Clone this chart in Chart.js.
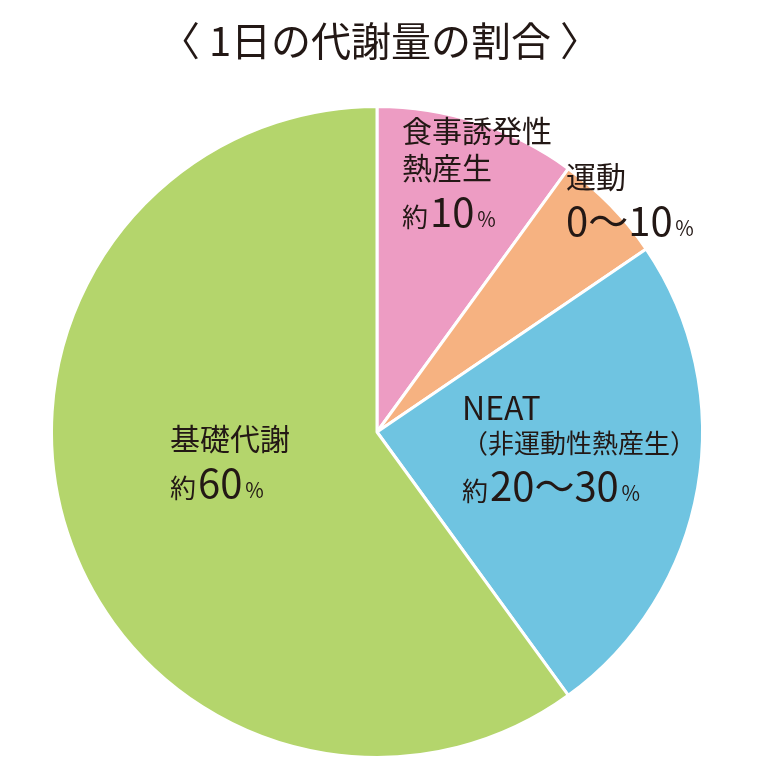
<!DOCTYPE html>
<html lang="ja">
<head>
<meta charset="UTF-8">
<script src="https://cdn.jsdelivr.net/npm/chart.js@4"></script>
<style>
  body { margin: 0; background: #fff; }
  #wrap { position: relative; width: 760px; height: 760px; }
</style>
</head>
<body>
<div id="wrap"><canvas id="pie" width="760" height="760"></canvas></div>
<script>
// Shares of daily energy expenditure (clockwise from top)
const categories = ['食事誘発性熱産生', '運動', 'NEAT', '基礎代謝'];
const shares = [10, 5.5, 24.5, 60];
const colors = ['#ed9cc3', '#f6b281', '#6fc4e1', '#b4d56c'];

const FONT = '"Noto Sans CJK JP", "Noto Sans", sans-serif';
const INK = '#231815';

// Each label: lines of [text, size] runs
const labels = [
  { x: 402, y: 110, lines: [[['食事誘発性', 30]], [['熱産生', 30]], [['約', 26], ['10', 40], ['％', 20]]] },
  { x: 566, y: 156, lines: [[['運動', 30]], [['0～10', 40], ['％', 20]]] },
  { x: 462, y: 386, lines: [[['NEAT', 32]], [['（非運動性熱産生）', 26]], [['約', 26], ['20～30', 40], ['％', 20]]] },
  { x: 170, y: 418, lines: [[['基礎代謝', 30]], [['約', 26], ['60', 40], ['％', 20]]] }
];

const textPlugin = {
  id: 'labels',
  afterDraw(chart) {
    const ctx = chart.ctx;
    ctx.save();
    ctx.fillStyle = INK;
    ctx.textBaseline = 'alphabetic';
    ctx.font = '40px ' + FONT;
    ctx.textAlign = 'center';
    ctx.fillText('〈 1日の代謝量の割合 〉', 380, 56);
    ctx.textAlign = 'left';
    labels.forEach(l => {
      let y = l.y;
      l.lines.forEach(line => {
        const h = Math.max(...line.map(r => r[1]));
        y += h * 1.05;
        let x = l.x;
        line.forEach(([t, s]) => {
          ctx.font = s + 'px ' + FONT;
          ctx.fillText(t, x, y);
          x += ctx.measureText(t).width + 2;
        });
        y += 6;
      });
    });
    ctx.restore();
  }
};

new Chart(document.getElementById('pie'), {
  type: 'pie',
  data: {
    labels: categories,
    datasets: [{ data: shares, backgroundColor: colors, borderColor: '#fff', borderWidth: 3 }]
  },
  options: {
    responsive: false,
    animation: false,
    layout: { padding: { top: 105, bottom: 1, left: 50, right: 56 } },
    plugins: { legend: { display: false }, tooltip: { enabled: false } }
  },
  plugins: [textPlugin]
});
</script>
</body>
</html>
